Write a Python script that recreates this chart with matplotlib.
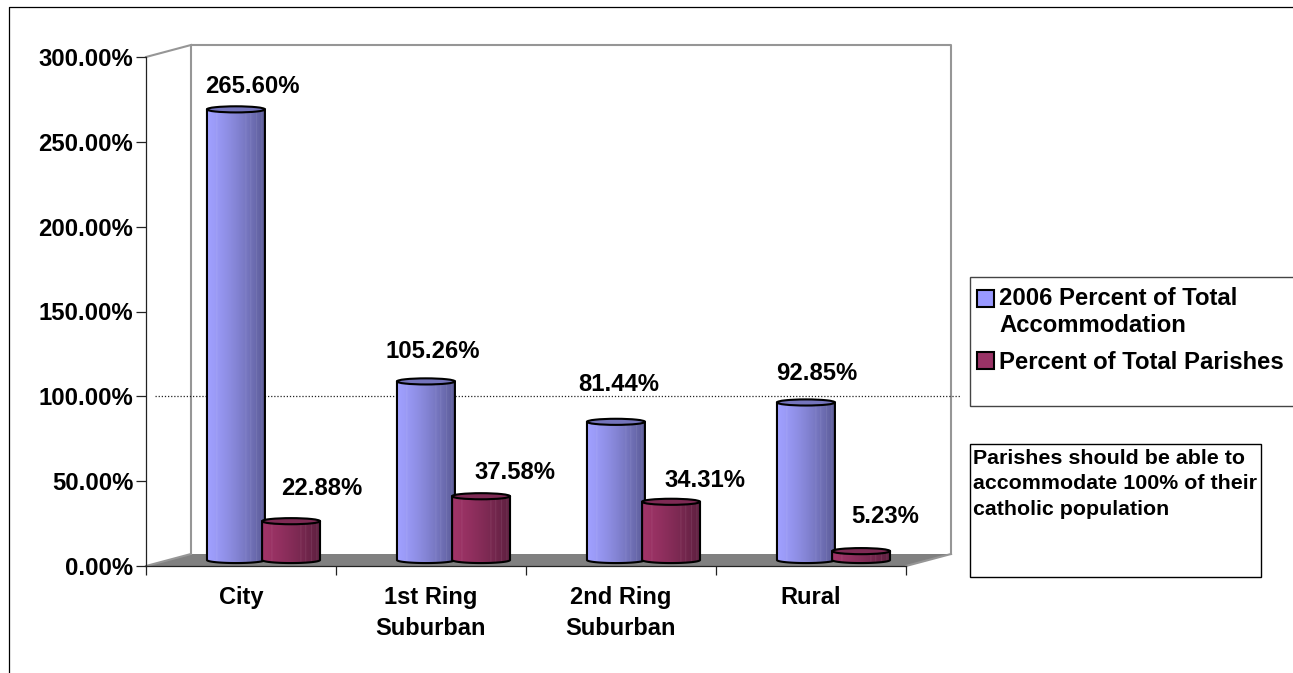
import numpy as np
import matplotlib
matplotlib.use("Agg")
import matplotlib.pyplot as plt
from matplotlib.colors import to_rgb
from matplotlib.legend_handler import HandlerPatch
from matplotlib.lines import Line2D
from matplotlib.patches import Ellipse, Polygon, Rectangle
from matplotlib.transforms import Affine2D, IdentityTransform

plt.rcParams['font.family'] = ['Liberation Sans', 'DejaVu Sans']
plt.rcParams['font.weight'] = 'bold'

categories = ["City", "1st Ring\nSuburban", "2nd Ring\nSuburban", "Rural"]
accommodation = [265.60, 105.26, 81.44, 92.85]
parishes = [22.88, 37.58, 34.31, 5.23]
yticks = [0, 50, 100, 150, 200, 250, 300]
series_names = ["2006 Percent of Total\nAccommodation", "Percent of Total Parishes"]
note = "Parishes should be able to\naccommodate 100% of their\ncatholic population"

# label offsets from the cylinder top, pixels
blue_offsets = [(16, 23), (7, 30), (3, 37), (11, 29)]
red_offsets = [(31, 33), (34, 24), (34, 21), (24, 35)]

W, H = 1293, 673
fig = plt.figure(figsize=(W / 100, H / 100), dpi=100)
ax = fig.add_axes([146 / W, 1 - 566 / H, 760 / W, 509 / H])
ax.set_xlim(0, 4)
ax.set_ylim(0, 300)
ax.patch.set_alpha(0)


def back(x, y):
    # point on the back wall, display coords
    px, py = ax.transData.transform((x, y))
    return px + 45, py + 12


# floor and walls
floor = Polygon([ax.transData.transform((0, 0)), ax.transData.transform((4, 0)), back(4, 0), back(0, 0)],
                closed=True, facecolor="#808080", edgecolor="none",
                transform=IdentityTransform(), zorder=1, clip_on=False)
ax.add_patch(floor)
wall_col = "#969696"
for pts in [[back(0, 0), back(0, 300), back(4, 300), back(4, 0)],
            [ax.transData.transform((0, 300)), back(0, 300)],
            [ax.transData.transform((0, 0)), back(0, 0)],
            [ax.transData.transform((4, 0)), back(4, 0)]]:
    xs, ys = zip(*pts)
    ax.plot(xs, ys, color=wall_col, lw=1.5, transform=IdentityTransform(), clip_on=False, zorder=1.5)

# 100% reference
ax.plot([0.047, 4.284], [100, 100], color="#222222", lw=0.9, ls=(0, (1, 1.5)), clip_on=False, zorder=1.8)

depth = ax.transData + Affine2D().translate(22.5, 6)
bar_w = 0.305
cap_h = 3.6


def gradient(light, dark):
    a = np.array(to_rgb(light))
    b = np.array(to_rgb(dark))
    t = np.linspace(0, 1, 120)[:, None]
    col = a + (b - a) * t ** 1.3
    # pale vertical streaks of the shaded cylinder
    for f in [0.17, 0.68, 0.76, 0.86, 0.95]:
        col[int(f * 119)] = col[int(f * 119)] * 0.85 + 0.15
    return col[None, :, :]


def cylinder(cx, value, light, dark, cap, z):
    t = np.linspace(np.pi, 2 * np.pi, 60)
    px = cx + bar_w / 2 * np.cos(t)
    py = cap_h / 2 * np.sin(t)
    outline = np.column_stack([np.r_[cx - bar_w / 2, px, cx + bar_w / 2], np.r_[value, py, value]])
    body = Polygon(outline, closed=True, facecolor="none", edgecolor="black", lw=1.5,
                   transform=depth, zorder=z + 0.2, joinstyle="round")
    ax.add_patch(body)
    im = ax.imshow(gradient(light, dark), extent=[cx - bar_w / 2, cx + bar_w / 2, -cap_h, value],
                   aspect="auto", interpolation="bilinear", transform=depth, zorder=z)
    im.set_clip_path(Polygon(outline, closed=True, transform=depth))
    ax.add_patch(Ellipse((cx, value), bar_w, cap_h, facecolor=cap, edgecolor="black", lw=1.5,
                         transform=depth, zorder=z + 0.3))


for i in range(len(categories)):
    xc = i + 0.5
    cylinder(xc - 0.145, accommodation[i], "#A0A0FF", "#5C5C98", "#7474BC", 3 + i)
    cylinder(xc + 0.145, parishes[i], "#A03468", "#5E2040", "#7E2A54", 3.5 + i)
    for v, off, cx in [(accommodation[i], blue_offsets[i], xc - 0.145), (parishes[i], red_offsets[i], xc + 0.145)]:
        ax.annotate("%.2f%%" % v, xy=(cx, v), xycoords=depth, xytext=off, textcoords="offset pixels",
                    ha="center", va="center", fontsize=17.2, fontweight="bold", zorder=10)
ax.set_xlim(0, 4)
ax.set_ylim(0, 300)

# axes
for s in ["top", "right"]:
    ax.spines[s].set_visible(False)
for s in ["left", "bottom"]:
    ax.spines[s].set_color("#222222")
    ax.spines[s].set_linewidth(0.9)
    ax.spines[s].set_zorder(2)
ax.set_yticks(yticks)
ax.set_yticklabels(["%.2f%%" % v for v in yticks], fontsize=17.2, fontweight="bold")
ax.set_xticks(range(5))
ax.set_xticklabels([])
ax.set_xticks([i + 0.5 for i in range(4)], categories, minor=True, fontsize=17, fontweight="bold", linespacing=1.43)
ax.tick_params(axis="y", length=7.2, width=0.9, color="#222222", pad=2)
ax.tick_params(axis="x", which="major", length=6.5, width=0.9, color="#222222")
ax.tick_params(axis="x", which="minor", length=0, pad=14.7)

# outer chart frame
fig.add_artist(Line2D([9 / W, 9 / W, 1], [0, 1 - 7 / H, 1 - 7 / H], color="black", lw=0.9))

# legend
fig.add_artist(Rectangle((970 / W, 1 - 406 / H), 330 / W, 129 / H, facecolor="white", edgecolor="#444444",
                         lw=1.0, transform=fig.transFigure))


def square(legend, orig_handle, xdescent, ydescent, width, height, fontsize):
    lift = 14 if "\n" in orig_handle.get_label() else 0
    return Rectangle((-xdescent + 1, -ydescent + lift * 0.72), width, height)


handles = [Rectangle((0, 0), 1, 1, facecolor="#9999FF", edgecolor="black", lw=1.5, label=series_names[0]),
           Rectangle((0, 0), 1, 1, facecolor="#993366", edgecolor="black", lw=1.5, label=series_names[1])]
fig.legend(handles=handles, loc="upper left", bbox_to_anchor=(970 / W, 1 - 281 / H), frameon=False,
           prop={"weight": "bold", "size": 17.2}, handlelength=0.68, handleheight=0.68,
           handletextpad=0.3, labelspacing=0.6, borderaxespad=0, borderpad=0.25,
           handler_map={Rectangle: HandlerPatch(patch_func=square)})

# note box
fig.add_artist(Rectangle((970 / W, 1 - 577 / H), 291 / W, 133 / H, facecolor="white", edgecolor="black",
                         lw=1.0, transform=fig.transFigure))
fig.text(973 / W, 1 - 449 / H, note, ha="left", va="top", fontsize=15.4, fontweight="bold", linespacing=1.43)

fig.savefig("out.png", dpi=100)
